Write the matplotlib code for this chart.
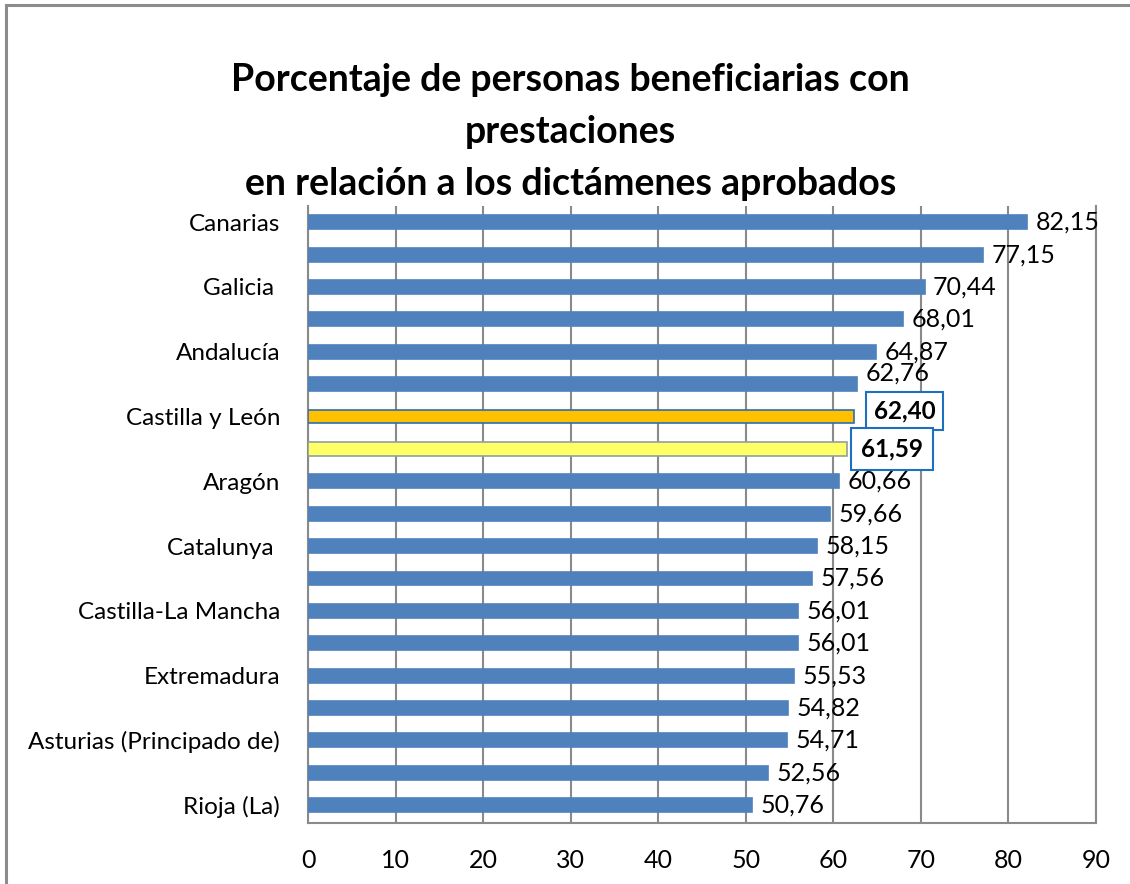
import matplotlib
matplotlib.use("Agg")
import matplotlib.pyplot as plt

categories = ["Canarias", "", "Galicia ", "", "Andalucía", "", "Castilla y León", "",
              "Aragón", "", "Catalunya ", "", "Castilla-La Mancha", "", "Extremadura", "",
              "Asturias (Principado de)", "", "Rioja (La)"]
values = [82.15, 77.15, 70.44, 68.01, 64.87, 62.76, 62.40, 61.59, 60.66, 59.66,
          58.15, 57.56, 56.01, 56.01, 55.53, 54.82, 54.71, 52.56, 50.76]
value_labels = ["82,15", "77,15", "70,44", "68,01", "64,87", "62,76", "62,40", "61,59",
                "60,66", "59,66", "58,15", "57,56", "56,01", "56,01", "55,53", "54,82",
                "54,71", "52,56", "50,76"]
xticks = [0, 10, 20, 30, 40, 50, 60, 70, 80, 90]
title = "Porcentaje de personas beneficiarias con\nprestaciones\nen relación a los dictámenes aprobados"

FONT = ["Lato", "DejaVu Sans"]
plt.rcParams["font.family"] = FONT

W, H = 1130, 884
fig = plt.figure(figsize=(W / 100, H / 100), dpi=100)
fig.patch.set_facecolor("white")

# outer chart border (only left and top visible)
fig.add_artist(plt.Line2D([6 / W, 6 / W], [0, 1 - 5 / H], transform=fig.transFigure,
                          color="#8c8c8c", lw=2.2))
fig.add_artist(plt.Line2D([6 / W, 1], [1 - 5 / H, 1 - 5 / H], transform=fig.transFigure,
                          color="#8c8c8c", lw=2.2))

ax = fig.add_axes([308 / W, 1 - 823 / H, (1096 - 308) / W, (823 - 206) / H])

colors = ["#4F81BD"] * len(values)
edges = ["#4F81BD"] * len(values)
colors[6] = "#FFC000"; edges[6] = "#2E6DB0"
colors[7] = "#FFFF66"; edges[7] = "#8FA0A0"

y = list(range(len(values)))
ax.barh(y, values, height=0.43, color=colors, edgecolor=edges, linewidth=1.2, zorder=3)

ax.set_xlim(0, 90)
ax.set_ylim(len(values) - 0.45, -0.5)
ax.set_xticks(xticks)
ax.set_xticklabels([str(t) for t in xticks], fontsize=18)
ax.set_yticks(y)
ax.set_yticklabels(categories, fontsize=17.5)
ax.tick_params(axis="y", length=0, pad=20)
ax.tick_params(axis="x", length=0, pad=19)
ax.xaxis.grid(True, color="#8a8a8a", lw=1.5, zorder=0)
ax.spines["top"].set_visible(False)
for s in ["left", "bottom", "right"]:
    ax.spines[s].set_color("#8a8a8a")
    ax.spines[s].set_linewidth(1.5)

for i, (v, lab) in enumerate(zip(values, value_labels)):
    if i == 6:
        ax.annotate(lab, xy=(v, i), xytext=(14, 4), textcoords="offset points",
                    ha="left", va="center", fontsize=17.5, fontweight="bold", zorder=5,
                    bbox=dict(boxstyle="square,pad=0.3", fc="white", ec="#1F6FBF", lw=1.5))
    elif i == 7:
        ax.annotate(lab, xy=(v, i), xytext=(10, 0), textcoords="offset points",
                    ha="left", va="center", fontsize=17.5, fontweight="bold", zorder=5,
                    bbox=dict(boxstyle="square,pad=0.4", fc="white", ec="#1F6FBF", lw=1.5))
    else:
        dy = -0.35 if i == 5 else 0
        ax.annotate(lab, xy=(v, i + dy), xytext=(6, 0), textcoords="offset points",
                    ha="left", va="center", fontsize=18, zorder=5)

fig.text(0.505, 1 - 132 / H, title, ha="center", va="center", fontsize=27,
         fontweight="bold", linespacing=1.63)

fig.savefig("out.png", dpi=100)
